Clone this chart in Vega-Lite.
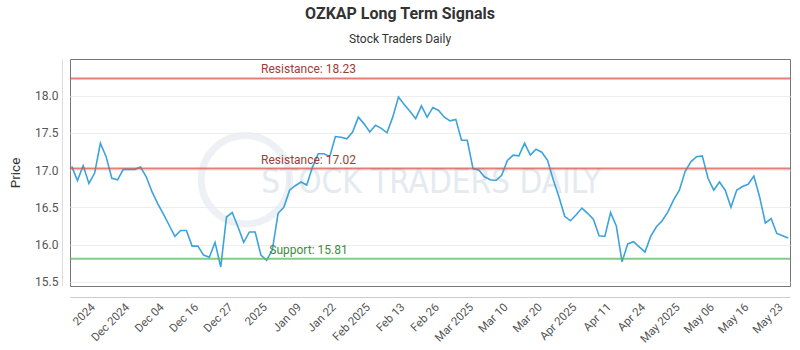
{
  "$schema": "https://vega.github.io/schema/vega-lite/v6.json",
  "autosize": {"type": "none"},
  "width": 720,
  "height": 227,
  "padding": {"left": 70, "top": 59, "right": 10, "bottom": 64},
  "background": "white",
  "config": {
    "font": "Roboto",
    "view": {"stroke": "#777", "strokeWidth": 1},
    "axis": {"labelFont": "Roboto", "titleFont": "Roboto"},
    "axisX": {"labelOverlap": false, "labelSeparation": 0}
  },
  "title": {
    "text": "OZKAP Long Term Signals",
    "subtitle": "Stock Traders Daily",
    "anchor": "middle",
    "dx": -30,
    "offset": 14,
    "fontSize": 16,
    "fontWeight": "bold",
    "color": "#333",
    "subtitleFontSize": 12,
    "subtitleColor": "#333",
    "subtitlePadding": 12
  },
  "datasets": {
    "prices": [
      {"day": 0, "price": 17.05}, {"day": 1, "price": 16.86}, {"day": 2, "price": 17.06}, {"day": 3, "price": 16.82},
      {"day": 4, "price": 16.96}, {"day": 5, "price": 17.36}, {"day": 6, "price": 17.18}, {"day": 7, "price": 16.89},
      {"day": 8, "price": 16.87}, {"day": 9, "price": 17.01}, {"day": 10, "price": 17.01}, {"day": 11, "price": 17.01},
      {"day": 12, "price": 17.04}, {"day": 13, "price": 16.91}, {"day": 14, "price": 16.71}, {"day": 15, "price": 16.55},
      {"day": 16, "price": 16.41}, {"day": 17, "price": 16.26}, {"day": 18, "price": 16.11}, {"day": 19, "price": 16.19},
      {"day": 20, "price": 16.19}, {"day": 21, "price": 15.98}, {"day": 22, "price": 15.98}, {"day": 23, "price": 15.86},
      {"day": 24, "price": 15.83}, {"day": 25, "price": 16.03}, {"day": 26, "price": 15.70}, {"day": 27, "price": 16.37},
      {"day": 28, "price": 16.43}, {"day": 29, "price": 16.24}, {"day": 30, "price": 16.03}, {"day": 31, "price": 16.17},
      {"day": 32, "price": 16.17}, {"day": 33, "price": 15.86}, {"day": 34, "price": 15.79}, {"day": 35, "price": 15.93},
      {"day": 36, "price": 16.42}, {"day": 37, "price": 16.50}, {"day": 38, "price": 16.73}, {"day": 39, "price": 16.79},
      {"day": 40, "price": 16.84}, {"day": 41, "price": 16.80}, {"day": 42, "price": 17.04}, {"day": 43, "price": 17.22},
      {"day": 44, "price": 17.22}, {"day": 45, "price": 17.18}, {"day": 46, "price": 17.45}, {"day": 47, "price": 17.44},
      {"day": 48, "price": 17.42}, {"day": 49, "price": 17.51}, {"day": 50, "price": 17.71}, {"day": 51, "price": 17.62},
      {"day": 52, "price": 17.51}, {"day": 53, "price": 17.60}, {"day": 54, "price": 17.56}, {"day": 55, "price": 17.50},
      {"day": 56, "price": 17.71}, {"day": 57, "price": 17.98}, {"day": 58, "price": 17.88}, {"day": 59, "price": 17.79},
      {"day": 60, "price": 17.69}, {"day": 61, "price": 17.86}, {"day": 62, "price": 17.71}, {"day": 63, "price": 17.84},
      {"day": 64, "price": 17.80}, {"day": 65, "price": 17.71}, {"day": 66, "price": 17.66}, {"day": 67, "price": 17.68},
      {"day": 68, "price": 17.40}, {"day": 69, "price": 17.40}, {"day": 70, "price": 17.02}, {"day": 71, "price": 17.00},
      {"day": 72, "price": 16.91}, {"day": 73, "price": 16.87}, {"day": 74, "price": 16.86}, {"day": 75, "price": 16.93},
      {"day": 76, "price": 17.13}, {"day": 77, "price": 17.20}, {"day": 78, "price": 17.19}, {"day": 79, "price": 17.36},
      {"day": 80, "price": 17.20}, {"day": 81, "price": 17.28}, {"day": 82, "price": 17.24}, {"day": 83, "price": 17.13},
      {"day": 84, "price": 16.87}, {"day": 85, "price": 16.64}, {"day": 86, "price": 16.38}, {"day": 87, "price": 16.32},
      {"day": 88, "price": 16.40}, {"day": 89, "price": 16.49}, {"day": 90, "price": 16.42}, {"day": 91, "price": 16.34},
      {"day": 92, "price": 16.12}, {"day": 93, "price": 16.11}, {"day": 94, "price": 16.43}, {"day": 95, "price": 16.25},
      {"day": 96, "price": 15.77}, {"day": 97, "price": 16.01}, {"day": 98, "price": 16.04}, {"day": 99, "price": 15.97},
      {"day": 100, "price": 15.90}, {"day": 101, "price": 16.11}, {"day": 102, "price": 16.24}, {"day": 103, "price": 16.32},
      {"day": 104, "price": 16.44}, {"day": 105, "price": 16.60}, {"day": 106, "price": 16.73}, {"day": 107, "price": 16.98},
      {"day": 108, "price": 17.11}, {"day": 109, "price": 17.18}, {"day": 110, "price": 17.19}, {"day": 111, "price": 16.89},
      {"day": 112, "price": 16.73}, {"day": 113, "price": 16.84}, {"day": 114, "price": 16.73}, {"day": 115, "price": 16.50},
      {"day": 116, "price": 16.73}, {"day": 117, "price": 16.78}, {"day": 118, "price": 16.81}, {"day": 119, "price": 16.92},
      {"day": 120, "price": 16.64}, {"day": 121, "price": 16.29}, {"day": 122, "price": 16.35}, {"day": 123, "price": 16.15},
      {"day": 124, "price": 16.12}, {"day": 125, "price": 16.09}
    ],
    "levels": [
      {"kind": "Resistance", "value": 18.23, "label": "Resistance: 18.23"},
      {"kind": "Resistance", "value": 17.02, "label": "Resistance: 17.02"},
      {"kind": "Support", "value": 15.81, "label": "Support: 15.81"}
    ]
  },
  "layer": [
    {
      "data": {"values": [{"mark": "STOCK TRADERS DAILY"}]},
      "mark": {"type": "text", "font": "DejaVu Sans Condensed, Liberation Sans Narrow, Roboto", "fontSize": 33, "color": "#e4eaf0", "align": "center", "baseline": "middle"},
      "encoding": {
        "text": {"field": "mark"},
        "x": {"datum": 62.7},
        "y": {"datum": 16.83}
      }
    },
    {
      "data": {"values": [{"mark": "logo"}]},
      "mark": {"type": "point", "shape": "circle", "size": 7800, "filled": false, "stroke": "#e6ecf2", "strokeWidth": 7},
      "encoding": {
        "x": {"datum": 30.3},
        "y": {"datum": 16.87}
      }
    },
    {
      "data": {"name": "prices"},
      "mark": {"type": "line", "color": "#3ca3dc", "strokeWidth": 1.6, "interpolate": "linear"},
      "encoding": {
        "x": {
          "field": "day",
          "type": "quantitative",
          "scale": {"domain": [-0.3, 125.3], "nice": false, "zero": false},
          "axis": {
            "title": null,
            "values": [3, 9, 15, 21, 27, 33, 39, 45, 51, 57, 63, 69, 75, 81, 87, 93, 99, 105, 111, 117, 123],
            "tickCount": 40,
            "labelExpr": "['2024','Dec 2024','Dec 04','Dec 16','Dec 27','2025','Jan 09','Jan 22','Feb 2025','Feb 13','Feb 26','Mar 2025','Mar 10','Mar 20','Apr 2025','Apr 11','Apr 24','May 2025','May 06','May 16','May 23'][round((datum.value-3)/6)]",
            "labelAngle": -45,
            "labelAlign": "right",
            "labelBaseline": "top",
            "labelFontSize": 11.5,
            "labelColor": "#555",
            "labelPadding": 4,
            "ticks": false,
            "grid": false,
            "offset": 11,
            "domainColor": "#ccc",
            "labelOverlap": false,
            "labelSeparation": 0,
            "labelBound": false,
            "labelFlush": false
          }
        },
        "y": {
          "field": "price",
          "type": "quantitative",
          "scale": {"domain": [15.445, 18.49], "nice": false, "zero": false},
          "axis": {
            "title": "Price",
            "titleFontSize": 13.5,
            "titleFontWeight": "normal",
            "titleColor": "#333",
            "titlePadding": 12,
            "values": [15.5, 16, 16.5, 17, 17.5, 18],
            "tickCount": 10,
            "format": ".1f",
            "labelFontSize": 12,
            "labelColor": "#555",
            "labelPadding": 4,
            "ticks": false,
            "grid": true,
            "gridColor": "#eeeeee",
            "offset": 8,
            "domainColor": "#ddd"
          }
        }
      }
    },
    {
      "data": {"name": "levels"},
      "mark": {"type": "rule", "strokeWidth": 2, "opacity": 0.75},
      "encoding": {
        "y": {"field": "value", "type": "quantitative"},
        "color": {
          "field": "kind",
          "type": "nominal",
          "scale": {"domain": ["Resistance", "Support"], "range": ["#d9534f", "#5cb85c"]},
          "legend": null
        }
      }
    },
    {
      "data": {"name": "levels"},
      "mark": {"type": "text", "fontSize": 12, "align": "center", "baseline": "bottom", "dy": -2},
      "encoding": {
        "x": {"datum": 41.3},
        "y": {"field": "value", "type": "quantitative"},
        "text": {"field": "label"},
        "color": {
          "field": "kind",
          "type": "nominal",
          "scale": {"domain": ["Resistance", "Support"], "range": ["#a33a3a", "#3d8b3d"]},
          "legend": null
        }
      }
    }
  ],
  "resolve": {"scale": {"color": "independent"}}
}
